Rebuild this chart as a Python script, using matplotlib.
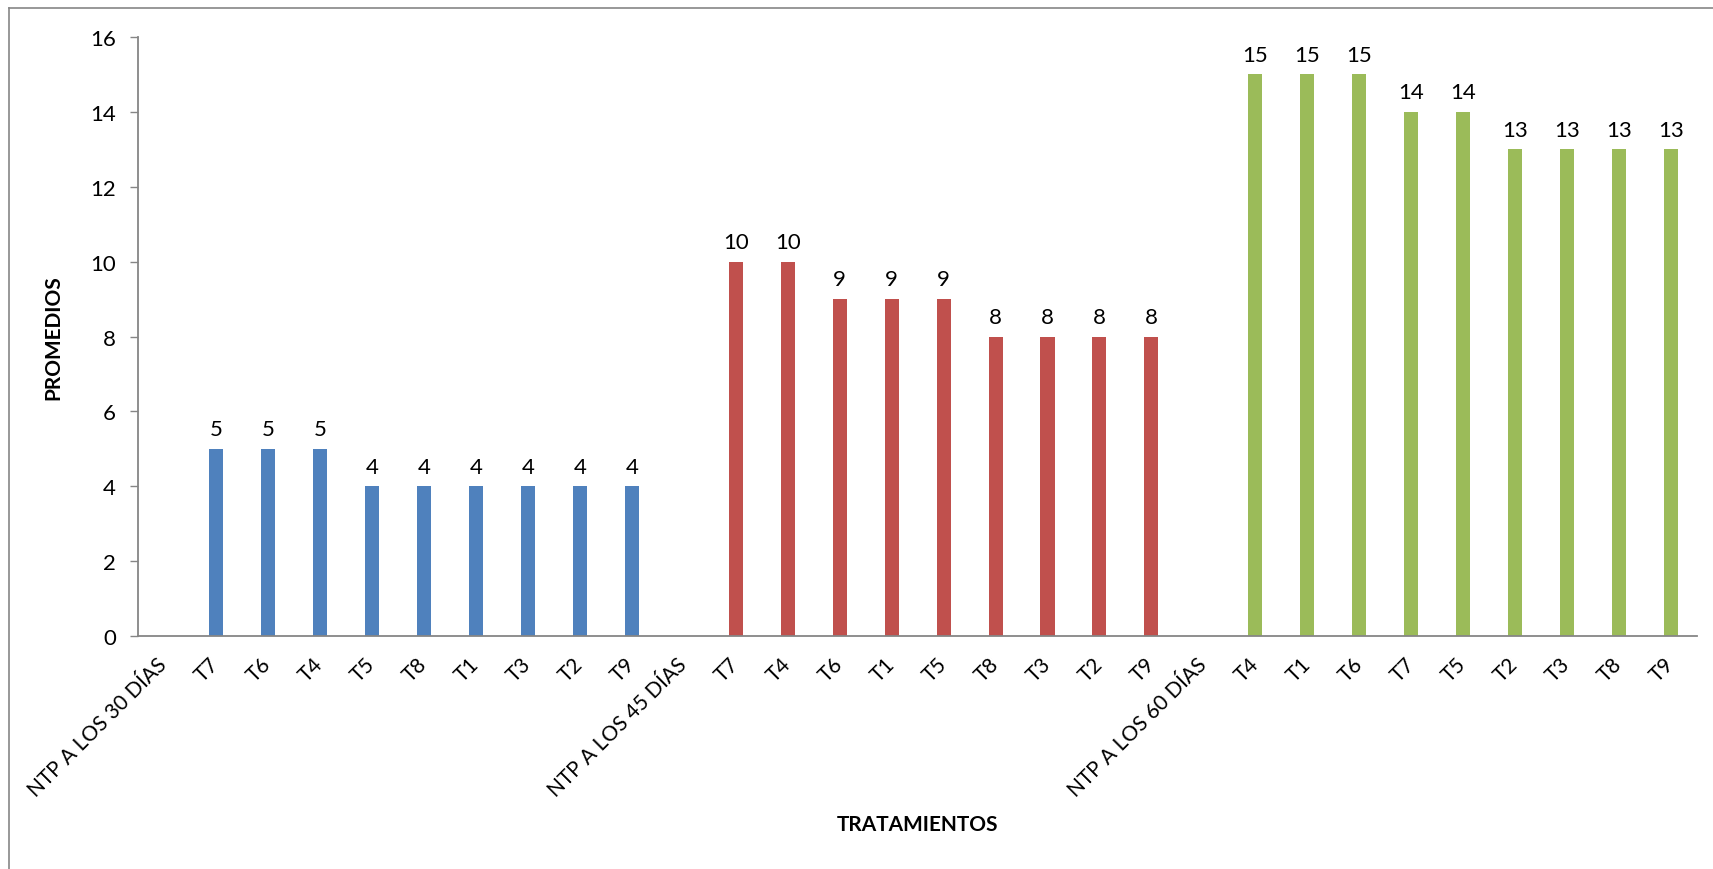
import matplotlib.pyplot as plt
from matplotlib.lines import Line2D

plt.rcParams['font.family'] = ['Lato', 'DejaVu Sans']

# datos: tres fechas de evaluacion, cada una con su encabezado (sin barra)
grupo_30 = ['NTP A LOS 30 DÍAS', 'T7', 'T6', 'T4', 'T5', 'T8', 'T1', 'T3', 'T2', 'T9']
valores_30 = [None, 5, 5, 5, 4, 4, 4, 4, 4, 4]
grupo_45 = ['NTP A LOS 45 DÍAS', 'T7', 'T4', 'T6', 'T1', 'T5', 'T8', 'T3', 'T2', 'T9']
valores_45 = [None, 10, 10, 9, 9, 9, 8, 8, 8, 8]
grupo_60 = ['NTP A LOS 60 DÍAS', 'T4', 'T1', 'T6', 'T7', 'T5', 'T2', 'T3', 'T8', 'T9']
valores_60 = [None, 15, 15, 15, 14, 14, 13, 13, 13, 13]

colores = ['#4F81BD', '#C0504D', '#9BBB59']
gris = '#868686'

etiquetas = grupo_30 + grupo_45 + grupo_60

fig = plt.figure(figsize=(17.13, 8.7), dpi=100)
ax = fig.add_axes([0.0806, 0.2678, 0.9101, 0.6885])

x = 0
for vals, col in zip([valores_30, valores_45, valores_60], colores):
    for v in vals:
        if v is not None:
            ax.bar(x, v, width=0.27, color=col)
            ax.annotate(str(v), (x, v), xytext=(0, 7), textcoords='offset points',
                        ha='center', va='bottom', fontsize=16)
        x += 1

ax.set_xlim(-0.5, len(etiquetas) - 0.5)
ax.set_ylim(0, 16)
ax.set_yticks(range(0, 17, 2))
ax.set_xticks(range(len(etiquetas)))
ax.set_xticklabels(etiquetas, rotation=45, ha='right', va='center',
                   rotation_mode='anchor', fontsize=15)
ax.tick_params(axis='x', length=0, pad=18)
ax.tick_params(axis='y', length=6, width=1, color=gris, labelsize=16, pad=10)

for s in ['top', 'right']:
    ax.spines[s].set_visible(False)
for s in ['left', 'bottom']:
    ax.spines[s].set_color(gris)
    ax.spines[s].set_linewidth(1.3)

ax.set_ylabel('PROMEDIOS', fontsize=15, fontweight='bold')
ax.set_xlabel('TRATAMIENTOS', fontsize=15, fontweight='bold')
ax.xaxis.set_label_coords(0.5, -0.297)
ax.yaxis.set_label_coords(-0.048, 0.5)

# borde del area del grafico (solo izquierda y arriba visibles)
fig.add_artist(Line2D([9 / 1713, 9 / 1713], [0, 1 - 9 / 870], color=gris, lw=1.2))
fig.add_artist(Line2D([9 / 1713, 1], [1 - 9 / 870, 1 - 9 / 870], color=gris, lw=1.2))

plt.savefig('out.png', dpi=100)
plt.close()
